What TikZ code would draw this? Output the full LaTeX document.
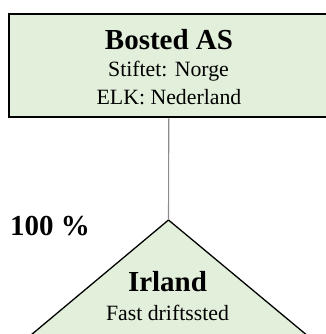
\documentclass[tikz,border=0pt]{standalone}
\usepackage{fontspec}
\setmainfont{Liberation Serif}
\definecolor{boxgreen}{HTML}{E2EFDA}
\definecolor{linkgray}{HTML}{8C8C8C}
\begin{document}
\begin{tikzpicture}[x=1pt,y=-1pt,
  entity/.style={draw=black, line width=1.8pt, fill=boxgreen, inner sep=0pt},
  branch/.style={draw=black, line width=1.3pt, fill=boxgreen, line join=miter},
  link/.style={draw=linkgray, line width=1.1pt},
  title/.style={font=\fontsize{29}{32}\selectfont\bfseries, inner sep=0pt},
  body/.style={font=\fontsize{21.8}{26}\selectfont, inner sep=0pt}]
\useasboundingbox (0,0) rectangle (325,334);

% parent company
\node[entity, minimum width=320pt, minimum height=103pt] (bosted) at (168.8,65.5) {};
\node[title, anchor=base] (bostedname) at (169,49.3) {Bosted AS};
\node[body, anchor=base] (bostedfounded) at (168.5,77) {Stiftet: Norge};
\node[body, anchor=base] (bostedresidence) at (169,104) {ELK: Nederland};

% permanent establishment (triangle runs past the lower edge)
\coordinate (apex) at (168.5,220);
\coordinate (baseleft) at (-46.7,400);
\coordinate (baseright) at (384.8,400);
\path[branch] (apex) -- (baseleft) -- (baseright) -- cycle;
\node[title, anchor=base] (irland) at (167.5,291.7) {Irland};
\node[body, anchor=base] (irlandkind) at (167.5,320.7) {Fast driftssted};

% ownership
\draw[link] (bosted.south) -- (apex);
\node[title, anchor=base west] (share) at (10,235) {100 \%};
\end{tikzpicture}
\end{document}
